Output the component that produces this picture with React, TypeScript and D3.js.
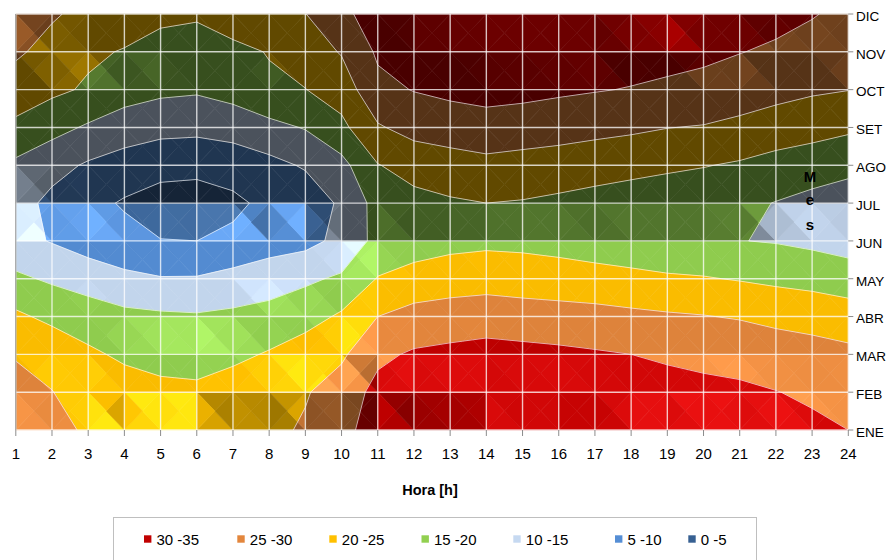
import React from "react";
import * as d3 from "d3";

// ---------- data ----------
const HOURS = [1, 2, 3, 4, 5, 6, 7, 8, 9, 10, 11, 12, 13, 14, 15, 16, 17, 18, 19, 20, 21, 22, 23, 24];
const MONTHS = ["ENE", "FEB", "MAR", "ABR", "MAY", "JUN", "JUL", "AGO", "SET", "OCT", "NOV", "DIC"];

const T_ENE = [29, 26.8, 24.2, 23.3, 22.5, 22.3, 23.2, 23.8, 25.6, 28.5, 32.4, 33, 33.5, 34, 33.5, 33, 32.7, 32.5, 32, 31.8, 31.2, 30.9, 30.8, 30];
const T_FEB = [28.3, 25.1, 23, 23.2, 21.8, 21.3, 22.8, 23.5, 24.6, 27.35, 31.4, 32.6, 33, 33.4, 33, 32.5, 32.2, 31.8, 31.3, 30.9, 30.5, 30.1, 29.4, 28.2];
const T_MAR = [24.3, 23.5, 21.2, 18.8, 17.5, 17.3, 18.7, 20.5, 22.7, 24.2, 29, 30.6, 31.2, 31.6, 31.4, 31, 30.5, 30, 29.5, 29.1, 29, 28, 27.1, 26.1];
const T_ABR = [20.9, 18.8, 16.5, 16.3, 15.8, 15.5, 16, 16.2, 18, 20.75, 25, 26.7, 27.25, 27.9, 27.3, 27, 26.65, 26.1, 25.6, 25.2, 24.6, 23.6, 23, 22.45];
const T_MAY = [15.9, 14.3, 13.7, 11.1, 10.3, 10.35, 11.6, 13.4, 14.2, 15.7, 20.25, 21.9, 22.7, 22.9, 22.6, 22.2, 21.8, 21.2, 20.6, 20.3, 19.7, 19.05, 18.5, 17.4];
const T_JUN = [11.5, 9.7, 7, 6.6, 5.1, 5, 6, 7.2, 8.5, 11.3, 16.5, 17.5, 18.5, 19, 18.8, 18.3, 17.5, 17, 16.5, 16, 15.1, 14.7, 13.9, 13];
const T_JUL = [12, 8.7, 6.5, 4.5, 3.3, 3, 4, 6.2, 7, 10.8, 16.8, 18.5, 19.5, 20, 19.75, 19.3, 18.8, 18, 17.5, 17, 16, 14.85, 13.8, 13];
const T_AGO = [14, 11.7, 9.4, 7.9, 6.4, 6.2, 7.1, 8.6, 10.5, 13.5, 19.8, 21.9, 22.5, 23.5, 22.6, 22, 21.5, 21.25, 20.7, 20.2, 19.5, 18, 17, 16.1];
const T_SET = [19, 16.6, 14.4, 12.5, 11.6, 11.3, 12, 13.6, 15.3, 18.8, 24.5, 26.7, 27.9, 28.5, 28.4, 27.7, 26.7, 25.9, 25.1, 24.7, 23.5, 23.1, 22.1, 20.9];
const T_OCT = [22.5, 21, 19.4, 17.2, 16, 15.6, 16.9, 19.3, 19.9, 22.3, 28.7, 30.2, 30.9, 31.3, 30.9, 30.6, 30.25, 29.8, 29, 29, 28.3, 26.3, 25.6, 25.1];
const T_NOV = [25.8, 23.2, 20.8, 19.7, 18, 17.8, 19, 20.2, 22.4, 25.35, 30.7, 32.5, 33, 33, 32.5, 32, 31.5, 31.9, 31.9, 30.7, 30.1, 29.5, 28.5, 27];
const T_DIC = [27, 25.6, 23.5, 22.5, 21.2, 20.6, 22.1, 23, 24.9, 29, 32, 33.5, 34, 34, 33.5, 33, 32.5, 32.3, 32, 31.5, 31, 31, 30.25, 29];

const TEMPS = [T_ENE, T_FEB, T_MAR, T_ABR, T_MAY, T_JUN, T_JUL, T_AGO, T_SET, T_OCT, T_NOV, T_DIC];

const LEVELS = [0, 5, 10, 15, 20, 25, 30, 35];
const BAND_LABELS = ["0 -5", "5 -10", "10 -15", "15 -20", "20 -25", "25 -30", "30 -35"];

// ---------- styles ----------
const BAND_COLORS = ["#376092", "#558ED5", "#C6D9F1", "#92D050", "#FFC000", "#E3863C", "#C00000"];
const FONT = "'Liberation Sans', Arial, sans-serif";

type VP = [number, number, number];

function clipVal(poly: VP[], level: number, keepAbove: boolean): VP[] {
  const out: VP[] = [];
  const n = poly.length;
  const inside = (p: VP) => (keepAbove ? p[2] >= level : p[2] <= level);
  for (let k = 0; k < n; k++) {
    const a = poly[k];
    const b = poly[(k + 1) % n];
    const ia = inside(a);
    const ib = inside(b);
    if (ia) out.push(a);
    if (ia !== ib) {
      const t = (level - a[2]) / (b[2] - a[2]);
      out.push([a[0] + t * (b[0] - a[0]), a[1] + t * (b[1] - a[1]), level]);
    }
  }
  return out;
}

function clipTri(poly: VP[], tri: [number, number][]): VP[] {
  let out = poly;
  for (let e = 0; e < 3; e++) {
    const A = tri[e];
    const B = tri[(e + 1) % 3];
    const side = (p: VP) => (B[0] - A[0]) * (p[1] - A[1]) - (B[1] - A[1]) * (p[0] - A[0]);
    const inp = out;
    out = [];
    const n = inp.length;
    for (let k = 0; k < n; k++) {
      const a = inp[k];
      const b = inp[(k + 1) % n];
      const sa = side(a);
      const sb = side(b);
      if (sa >= 0) out.push(a);
      if ((sa >= 0) !== (sb >= 0)) {
        const t = sa / (sa - sb);
        out.push([a[0] + t * (b[0] - a[0]), a[1] + t * (b[1] - a[1]), a[2] + t * (b[2] - a[2])]);
      }
    }
    if (out.length < 3) return [];
  }
  return out;
}

// lighting: brightness as a function of the facet's slope (toward +hour, +month)
const lightCurve = d3
  .scaleLinear()
  .domain([-2, -1.5, -0.5, 0, 0.5, 1, 2, 4])
  .range([0.38, 0.45, 0.6, 0.72, 0.97, 1.14, 1.06, 0.98])
  .clamp(true);

function shadeFactor(p: VP[]): number {
  const ax = p[1][0] - p[0][0], ay = p[1][1] - p[0][1], av = p[1][2] - p[0][2];
  const bx = p[2][0] - p[0][0], by = p[2][1] - p[0][1], bv = p[2][2] - p[0][2];
  const det = ax * by - ay * bx;
  const gx = (av * by - ay * bv) / det;
  const gy = (ax * bv - av * bx) / det;
  const u = -0.5 * gx - 1.0 * gy;
  return lightCurve(u);
}

function shadeColor(hex: string, B: number): string {
  const c = d3.rgb(hex);
  const add = B > 1 ? (B - 1) * 120 : 0;
  return d3.rgb(Math.min(255, c.r * B + add), Math.min(255, c.g * B + add), Math.min(255, c.b * B + add)).formatHex();
}

export default function App() {
  const W = 888;
  const H = 560;
  const x = d3.scaleLinear().domain([1, 24]).range([15.8, 848.3]);
  const y = d3.scaleLinear().domain([0, 11]).range([430, 14]);
  const sx = (g: number) => x(HOURS[0] + g);
  const sy = (g: number) => y(g);

  const nx = HOURS.length;
  const ny = MONTHS.length;

  const fills: { d: string; c: string }[] = [];
  const lines: string[] = [];

  const toPath = (poly: VP[]) =>
    "M" + poly.map((p) => sx(p[0]).toFixed(2) + "," + sy(p[1]).toFixed(2)).join("L") + "Z";

  for (let j = 0; j < ny - 1; j++) {
    for (let i = 0; i < nx - 1; i++) {
      const v00 = TEMPS[j][i], v10 = TEMPS[j][i + 1], v11 = TEMPS[j + 1][i + 1], v01 = TEMPS[j + 1][i];
      const vc = (v00 + v10 + v11 + v01) / 4;
      const p00: VP = [i, j, v00], p10: VP = [i + 1, j, v10], p11: VP = [i + 1, j + 1, v11], p01: VP = [i, j + 1, v01];
      const pc: VP = [i + 0.5, j + 0.5, vc];
      const quad = [p00, p10, p11, p01];
      const tris: VP[][] = [[p00, p10, pc], [p10, p11, pc], [p11, p01, pc], [p01, p00, pc]];
      const triShade = tris.map((t) => shadeFactor(t));
      for (let b = 0; b < LEVELS.length - 1; b++) {
        let poly = clipVal(quad, LEVELS[b], true);
        if (poly.length < 3) continue;
        poly = clipVal(poly, LEVELS[b + 1], false);
        if (poly.length < 3) continue;
        tris.forEach((t, k) => {
          const tp = clipTri(poly, t.map((q) => [q[0], q[1]] as [number, number]));
          if (tp.length < 3) return;
          fills.push({ d: toPath(tp), c: shadeColor(BAND_COLORS[b], triShade[k]) });
        });
      }
      // contour lines
      for (let l = 1; l < LEVELS.length - 1; l++) {
        const L = LEVELS[l];
        const corners = [p00, p10, p11, p01];
        const pts: ([number, number] | null)[] = [];
        for (let e = 0; e < 4; e++) {
          const a = corners[e];
          const bb = corners[(e + 1) % 4];
          if ((a[2] >= L) !== (bb[2] >= L)) {
            const t = (L - a[2]) / (bb[2] - a[2]);
            pts.push([a[0] + t * (bb[0] - a[0]), a[1] + t * (bb[1] - a[1])]);
          } else pts.push(null);
        }
        const found = pts.map((p, k) => (p ? k : -1)).filter((k) => k >= 0);
        const seg = (a: [number, number], c: [number, number]) =>
          lines.push(`M${sx(a[0]).toFixed(2)},${sy(a[1]).toFixed(2)}L${sx(c[0]).toFixed(2)},${sy(c[1]).toFixed(2)}`);
        if (found.length === 2) {
          seg(pts[found[0]]!, pts[found[1]]!);
        } else if (found.length === 4) {
          if ((vc >= L) === (v00 >= L)) {
            seg(pts[0]!, pts[1]!);
            seg(pts[2]!, pts[3]!);
          } else {
            seg(pts[3]!, pts[0]!);
            seg(pts[1]!, pts[2]!);
          }
        }
      }
    }
  }

  const legendX = [144, 237.3, 329.3, 421.5, 513.3, 615, 688.3];
  const legendOrder = [6, 5, 4, 3, 2, 1, 0];

  return (
    <svg width={W} height={H} style={{ position: "absolute", left: 0, top: 0, background: "#fff" }} fontFamily={FONT}>
      <g>
        {fills.map((f, k) => (
          <path key={k} d={f.d} fill={f.c} stroke={f.c} strokeWidth={0.6} strokeLinejoin="round" />
        ))}
      </g>
      <g>
        {lines.map((d, k) => (
          <path key={k} d={d} fill="none" stroke="rgba(255,255,255,0.62)" strokeWidth={1} />
        ))}
      </g>
      <g>
        {HOURS.map((h) => (
          <line key={"gx" + h} x1={x(h)} x2={x(h)} y1={y(0)} y2={y(11)} stroke="#ffffff" strokeOpacity={0.75} strokeWidth={1.4} />
        ))}
        {MONTHS.map((m, k) => (
          <line key={"gy" + m} x1={x(1)} x2={x(24)} y1={y(k)} y2={y(k)} stroke="#ffffff" strokeOpacity={0.75} strokeWidth={1.4} />
        ))}
      </g>
      {/* axes */}
      <line x1={x(1)} x2={x(1)} y1={y(11)} y2={y(0)} stroke="#8c8c8c" strokeWidth={1} />
      {HOURS.map((h) => (
        <line key={"tx" + h} x1={x(h)} x2={x(h)} y1={y(0)} y2={y(0) + 6} stroke="#8c8c8c" strokeWidth={1} />
      ))}
      {MONTHS.map((m, k) => (
        <line key={"ty" + m} x1={x(24)} x2={x(24) + 5} y1={y(k)} y2={y(k)} stroke="#8c8c8c" strokeWidth={1} />
      ))}
      {HOURS.map((h) => (
        <text key={"lx" + h} x={x(h)} y={458.5} textAnchor="middle" fontSize={15} fill="#000">
          {h}
        </text>
      ))}
      {MONTHS.map((m, k) => (
        <text key={"ly" + m} x={856} y={y(k) + 6.8} fontSize={13.5} fill="#000">
          {m}
        </text>
      ))}
      <text x={430} y={495} textAnchor="middle" fontSize={14.5} fontWeight="bold" fill="#000">
        Hora [h]
      </text>
      <g fontSize={15} fontWeight="bold" fill="#000" textAnchor="middle">
        <text x={810} y={182}>M</text>
        <text x={810} y={205}>e</text>
        <text x={810} y={229.5}>s</text>
      </g>
      {/* legend */}
      <rect x={113.5} y={517.5} width={643} height={60} fill="#fff" stroke="#bfbfbf" strokeWidth={1} />
      {legendOrder.map((b, k) => (
        <g key={"lg" + b}>
          <rect x={legendX[k]} y={535.3} width={7.4} height={7.4} fill={BAND_COLORS[b]} />
          <text x={legendX[k] + 12.5} y={545} fontSize={15} fill="#000">
            {BAND_LABELS[b]}
          </text>
        </g>
      ))}
    </svg>
  );
}
